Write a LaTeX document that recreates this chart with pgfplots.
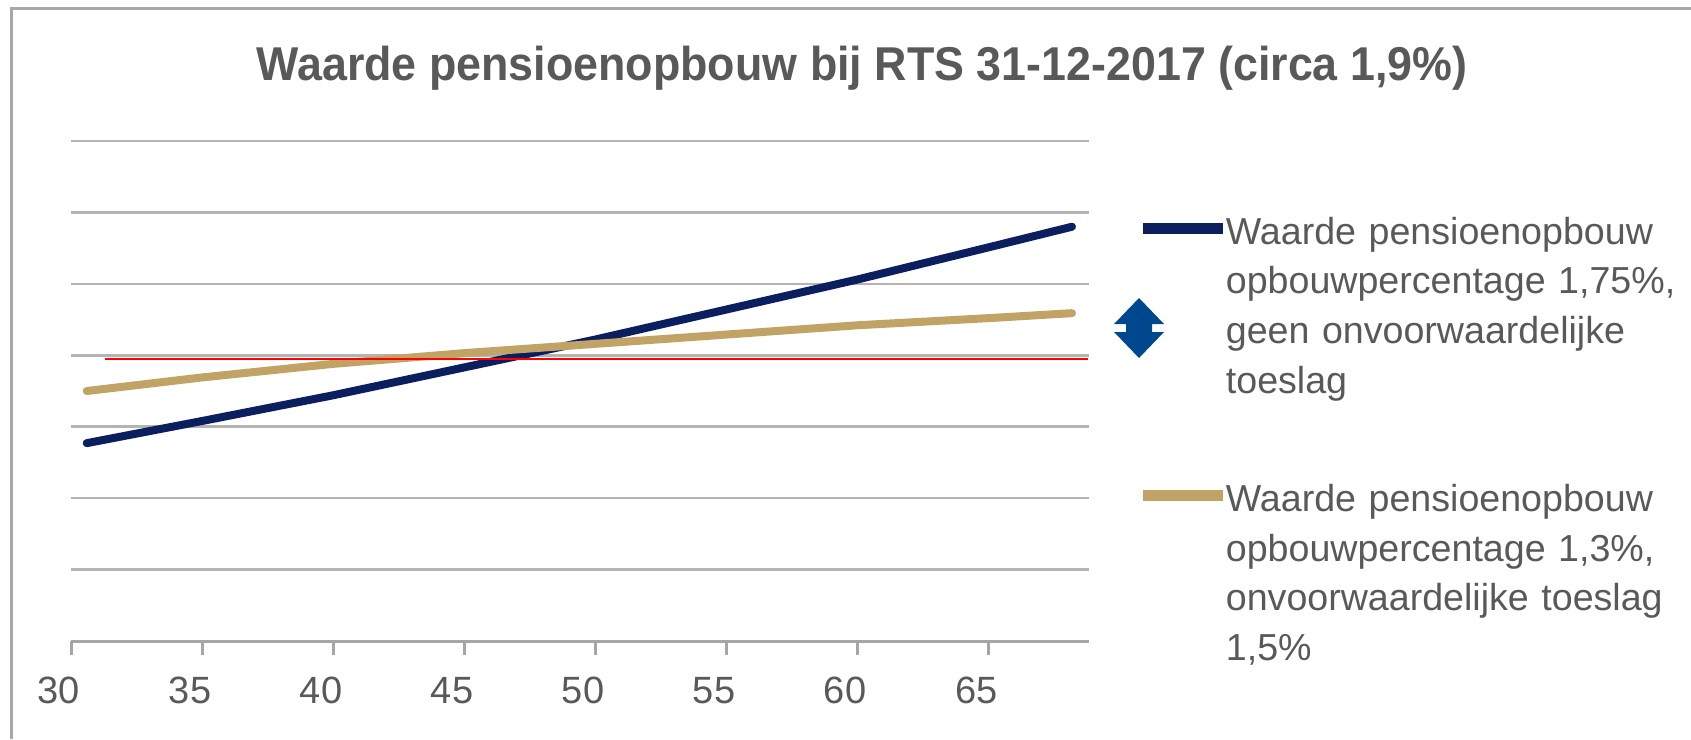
\documentclass[border=0pt]{standalone}
\usepackage{fontspec}
\setmainfont{Liberation Sans}
\usepackage{pgfplots}
\pgfplotsset{compat=1.18}
\definecolor{navyline}{HTML}{0B1F5E}
\definecolor{goldline}{HTML}{C2A366}
\definecolor{txtgray}{HTML}{595959}
\definecolor{gridgray}{HTML}{B4B4B4}
\definecolor{axgray}{HTML}{A6A6A6}
\definecolor{arrowblue}{HTML}{00488D}
\definecolor{framegray}{HTML}{A8A8A8}

\begin{document}
\begin{tikzpicture}
% page = 1691 x 739 px, 1 px = 0.5pt
\path[use as bounding box] (0pt,0pt) rectangle (845.5pt,-369.5pt);
\begin{axis}[
  at={(35.5pt,-320.5pt)}, anchor=south west,
  scale only axis,
  width=509pt, height=250pt,
  xmin=30, xmax=68.85,
  ymin=0, ymax=7,
  axis x line*=bottom,
  axis y line*=left,
  y axis line style={draw=none},
  x axis line style={axgray, line width=1.5pt},
  xtick={30,35,...,65},
  ytick={1,...,7},
  yticklabels={},
  ytick style={draw=none},
  ymajorgrids,
  major grid style={gridgray, line width=1.3pt},
  tick align=outside,
  major tick length=7pt,
  xtick style={axgray, line width=1.5pt},
  /pgf/number format/assume math mode=true,
  xticklabel style={font=\fontsize{19}{21}\selectfont, text=txtgray, xshift=-6pt, yshift=-7.5pt},
  title={\textbf{Waarde pensioenopbouw bij RTS 31-12-2017 (circa 1,9\%)}},
  title style={at={(0.777,1.097)}, anchor=base, font=\fontsize{22.4}{26}\selectfont, text=txtgray, inner sep=0pt, yscale=1.06},
  legend style={at={(1.048,0.848)}, anchor=north west, draw=none, fill=none,
    inner sep=0pt, outer sep=0pt, row sep=118.5pt, column sep=-1.5pt,
    nodes={inner sep=0pt, outer sep=0pt, text width=240pt, align=left,
      font=\fontsize{18.8}{24.8}\selectfont, text=txtgray}},
  legend cell align=left,
  legend image code/.code={\draw[#1, line width=5.5pt, line cap=butt] (0pt,2pt) -- (40pt,2pt);},
]
\addplot[navyline, line width=4pt, line cap=round, line join=round] coordinates {
  (30.6,2.77) (35,3.08) (40,3.44) (45,3.83) (50,4.22) (55,4.64) (60,5.06) (65,5.51) (68.2,5.80)};
\addlegendentry{Waarde pensioenopbouw\\opbouwpercentage 1,75\%,\\geen onvoorwaardelijke\\toeslag}
\addplot[goldline, line width=4pt, line cap=round, line join=round] coordinates {
  (30.6,3.50) (35,3.69) (40,3.88) (45,4.03) (50,4.16) (55,4.29) (60,4.42) (65,4.52) (68.2,4.59)};
\addlegendentry{Waarde pensioenopbouw\\opbouwpercentage 1,3\%,\\onvoorwaardelijke toeslag\\1,5\%}
\addplot[red, line width=1pt, forget plot] coordinates {(31.3,3.955) (68.8,3.955)};
\end{axis}
\begin{scope}[x=0.5pt, y=-0.5pt]
  \draw[framegray, line width=1.5pt] (11,739) -- (11,8) -- (1691,8);
  \fill[arrowblue] (1139,298) -- (1164,324) -- (1152,324) -- (1152,332) -- (1164,332)
    -- (1139,358) -- (1114,332) -- (1126,332) -- (1126,324) -- (1114,324) -- cycle;
\end{scope}
\end{tikzpicture}
\end{document}
